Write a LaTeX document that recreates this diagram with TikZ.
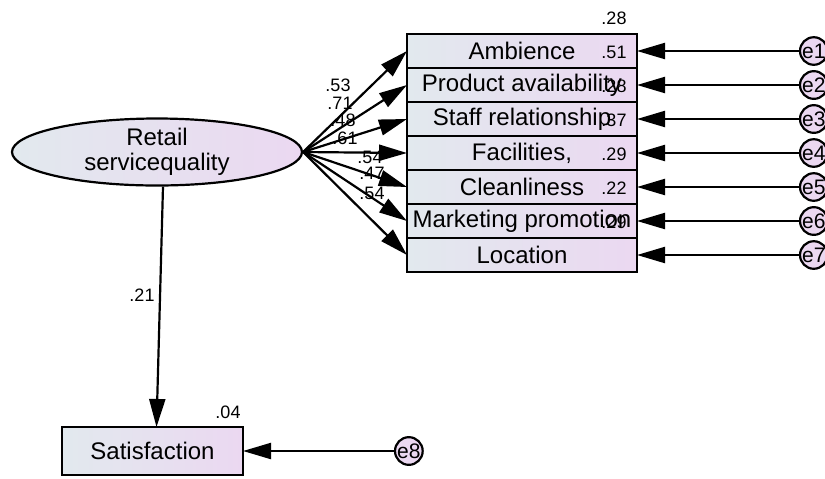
\documentclass[tikz,border=0pt]{standalone}
\usepackage{fontspec}
\setsansfont{Liberation Sans}
\usetikzlibrary{positioning}
\usetikzlibrary{arrows.meta}
\usetikzlibrary{shapes.geometric}
\definecolor{fillleft}{HTML}{E2E9EE}
\definecolor{fillright}{HTML}{EBD8F1}

\begin{document}
\begin{tikzpicture}[->, >={Triangle[length=14pt, width=8pt]}, line width=1.1pt, x=0.5pt, y=-0.5pt, font=\sffamily]
    \tikzstyle{latent}=[ellipse, draw, left color=fillleft, right color=fillright, minimum width=145pt, minimum height=28pt, inner sep=0pt, align=center, font=\sffamily\fontsize{12}{12.5}\selectfont]
    \tikzstyle{obs}=[rectangle, draw, left color=fillleft, right color=fillright, minimum width=115pt, minimum height=17pt, inner sep=0pt, outer sep=0pt, font=\sffamily\fontsize{12}{12.5}\selectfont]
    \tikzstyle{err}=[circle, draw, fill=fillright, minimum size=12pt, inner sep=0pt, outer sep=0pt, font=\sffamily\fontsize{10.5}{10.5}\selectfont]
    \tikzstyle{coef}=[inner sep=0pt, font=\sffamily\fontsize{9}{9}\selectfont]

    \useasboundingbox (0,0) rectangle (825,478);

    \node[latent] (rsq) at (157,152) {Retail\\servicequality};
    \node[obs] (amb) at (522,51) {Ambience};
    \node[obs, below=0pt of amb] (prod) {Product availability};
    \node[obs, below=0pt of prod] (stf) {Staff relationship};
    \node[obs, below=0pt of stf] (fac) {Facilities,};
    \node[obs, below=0pt of fac] (cln) {Cleanliness};
    \node[obs, below=0pt of cln] (mkt) {Marketing promotion};
    \node[obs, below=0pt of mkt] (loc) {Location};
    \node[obs, minimum width=90.5pt, minimum height=24pt] (sat) at (152.5,451) {Satisfaction};

    % loadings
    \foreach \b in {amb, prod, stf, fac, cln, mkt, loc}
        \path (rsq.east) edge (\b.west);
    \foreach \v/\x/\y [count=\i] in {.53/338/85, .71/340/103, .48/343/120, .61/345/138, .54/370/157, .47/372/173, .54/372/193}
        \node[coef] (p\i) at (\x,\y) {\v};

    % error terms
    \foreach \b [count=\i] in {amb, prod, stf, fac, cln, mkt, loc} {
        \node[err, right=81.5pt of \b] (e\i) {e\i};
        \path (e\i) edge (\b);
    }
    \node[err, right=76pt of sat] (e8) {e8};
    \path (e8) edge (sat);

    % squared multiple correlations
    \foreach \b/\v in {amb/.28, prod/.51, stf/.28, fac/.37, cln/.29, mkt/.22, loc/.29}
        \node[coef] (r\b) at ([shift={(-11.5pt,8pt)}]\b.north east) {\v};
    \node[coef] (rsat) at ([shift={(-7.5pt,7.5pt)}]sat.north east) {.04};

    \path ([xshift=3pt]rsq.south) edge ([xshift=2pt]sat.north);
    \node[coef] (p8) at (142,295) {.21};
\end{tikzpicture}
\end{document}
